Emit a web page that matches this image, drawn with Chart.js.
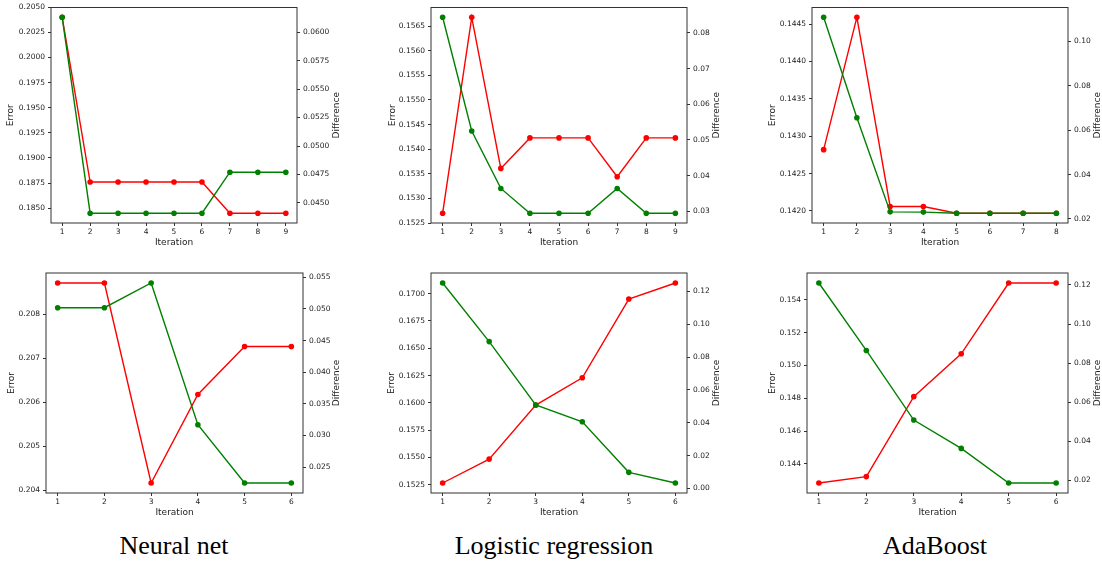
<!DOCTYPE html>
<html>
<head>
<meta charset="utf-8">
<script src="https://cdn.jsdelivr.net/npm/chart.js@4"></script>
<style>
  body { margin: 0; background: #fff; width: 1102px; height: 562px; position: relative; overflow: hidden; }
  canvas { position: absolute; }
  .cap { position: absolute; top: 533px; width: 300px; text-align: center;
         font-family: 'Liberation Serif', 'Times New Roman', serif; font-size: 26px; line-height: 26px; color: #000; }
</style>
</head>
<body>
<canvas id="c1"></canvas>
<canvas id="c2"></canvas>
<canvas id="c3"></canvas>
<canvas id="c4"></canvas>
<canvas id="c5"></canvas>
<canvas id="c6"></canvas>
<div class="cap" style="left:24px">Neural net</div>
<div class="cap" style="left:404px">Logistic regression</div>
<div class="cap" style="left:785px">AdaBoost</div>
<script>
// iterations
const iter9 = [1, 2, 3, 4, 5, 6, 7, 8, 9];
const iter8 = [1, 2, 3, 4, 5, 6, 7, 8];
const iter6 = [1, 2, 3, 4, 5, 6];

// top row
const nnErrA = [0.2040, 0.1876, 0.1876, 0.1876, 0.1876, 0.1876, 0.1845, 0.1845, 0.1845];
const nnDiffA = [0.0613, 0.0441, 0.0441, 0.0441, 0.0441, 0.0441, 0.0477, 0.0477, 0.0477];
const lrErrA = [0.1527, 0.15668, 0.15361, 0.15423, 0.15423, 0.15423, 0.15344, 0.15423, 0.15423];
const lrDiffA = [0.0844, 0.0525, 0.0364, 0.02945, 0.02945, 0.02945, 0.0364, 0.02945, 0.02945];
const abErrA = [0.14282, 0.14459, 0.14206, 0.14206, 0.14197, 0.14197, 0.14197, 0.14197];
const abDiffA = [0.1108, 0.0656, 0.0232, 0.0231, 0.0226, 0.0226, 0.0226, 0.0226];

// bottom row
const nnErrB = [0.20871, 0.20871, 0.20417, 0.20618, 0.20727, 0.20727];
const nnDiffB = [0.0502, 0.0502, 0.0541, 0.0317, 0.0225, 0.0225];
const lrErrB = [0.15266, 0.15485, 0.1598, 0.1623, 0.16951, 0.17098];
const lrDiffB = [0.1251, 0.0894, 0.0508, 0.0406, 0.0098, 0.0033];
const abErrB = [0.14284, 0.14323, 0.1481, 0.15071, 0.15502, 0.15502];
const abDiffB = [0.1210, 0.0865, 0.0509, 0.0364, 0.0187, 0.0187];

// tick labels
const nnErrTicksA = [0.1850, 0.1875, 0.1900, 0.1925, 0.1950, 0.1975, 0.2000, 0.2025, 0.2050];
const nnDiffTicksA = [0.0450, 0.0475, 0.0500, 0.0525, 0.0550, 0.0575, 0.0600];
const lrErrTicksA = [0.1525, 0.1530, 0.1535, 0.1540, 0.1545, 0.1550, 0.1555, 0.1560, 0.1565];
const lrDiffTicksA = [0.03, 0.04, 0.05, 0.06, 0.07, 0.08];
const abErrTicksA = [0.1420, 0.1425, 0.1430, 0.1435, 0.1440, 0.1445];
const abDiffTicksA = [0.02, 0.04, 0.06, 0.08, 0.10];
const nnErrTicksB = [0.204, 0.205, 0.206, 0.207, 0.208];
const nnDiffTicksB = [0.025, 0.030, 0.035, 0.040, 0.045, 0.050, 0.055];
const lrErrTicksB = [0.1525, 0.1550, 0.1575, 0.1600, 0.1625, 0.1650, 0.1675, 0.1700];
const lrDiffTicksB = [0.00, 0.02, 0.04, 0.06, 0.08, 0.10, 0.12];
const abErrTicksB = [0.144, 0.146, 0.148, 0.150, 0.152, 0.154];
const abDiffTicksB = [0.02, 0.04, 0.06, 0.08, 0.10, 0.12];

const FONT = 'DejaVu Sans';
const RED = '#ff0000';
const GREEN = '#008000';

const panels = [
  { id: 'c1', x: iter9, err: nnErrA, diff: nnDiffA, et: nnErrTicksA, dt: nnDiffTicksA, ed: 4, dd: 4,
    L: 51, R: 297, T: 4, B: 223, gl: 40, gr: 39.5 },
  { id: 'c2', x: iter9, err: lrErrA, diff: lrDiffA, et: lrErrTicksA, dt: lrDiffTicksA, ed: 4, dd: 2,
    L: 431, R: 687, T: 4, B: 223, gl: 38, gr: 29.5 },
  { id: 'c3', x: iter8, err: abErrA, diff: abDiffA, et: abErrTicksA, dt: abDiffTicksA, ed: 4, dd: 2,
    L: 812, R: 1068, T: 4, B: 223, gl: 39.5, gr: 29.5 },
  { id: 'c4', x: iter6, err: nnErrB, diff: nnDiffB, et: nnErrTicksB, dt: nnDiffTicksB, ed: 3, dd: 3,
    L: 46, R: 303, T: 273, B: 493, gl: 34, gr: 34 },
  { id: 'c5', x: iter6, err: lrErrB, diff: lrDiffB, et: lrErrTicksB, dt: lrDiffTicksB, ed: 4, dd: 2,
    L: 431, R: 687, T: 273, B: 493, gl: 39, gr: 30 },
  { id: 'c6', x: iter6, err: abErrB, diff: abDiffB, et: abErrTicksB, dt: abDiffTicksB, ed: 3, dd: 2,
    L: 807, R: 1068, T: 273, B: 493, gl: 34.5, gr: 29.5 },
];

// box around the plot and the right-hand label (reads bottom to top)
const framePlugin = {
  id: 'frame',
  afterDraw(chart, args, opts) {
    const { ctx, chartArea: a } = chart;
    ctx.save();
    ctx.strokeStyle = '#333';
    ctx.lineWidth = 1;
    ctx.strokeRect(a.left, a.top, a.right - a.left, a.bottom - a.top);
    ctx.fillStyle = '#222';
    ctx.font = '9px "' + FONT + '"';
    ctx.textAlign = 'center';
    ctx.textBaseline = 'middle';
    ctx.translate(a.right + opts.gap, (a.top + a.bottom) / 2);
    ctx.rotate(-Math.PI / 2);
    ctx.fillText('Difference', 0, 0);
    ctx.restore();
  },
};

function pad(vals) {
  const lo = Math.min(...vals), hi = Math.max(...vals);
  const m = (hi - lo) * 0.05;
  return [lo - m, hi + m];
}

function axisGrid() {
  return { display: true, drawOnChartArea: false, drawTicks: true, tickLength: 3, color: '#333', lineWidth: 1 };
}

panels.forEach(function (p) {
  const leftW = Math.round(p.gl + 4.5);
  const rightW = Math.ceil(p.gr + 6);
  const padTop = p.T < 100 ? p.T : 8;
  const xH = 24;
  const canvas = document.getElementById(p.id);
  canvas.width = leftW + (p.R - p.L) + rightW;
  canvas.height = padTop + (p.B - p.T) + xH;
  canvas.style.left = (p.L - leftW) + 'px';
  canvas.style.top = (p.T - padTop) + 'px';

  const n = p.x.length;
  const eR = pad(p.err);
  const dR = pad(p.diff);
  const tickFont = { family: FONT, size: 7.5 };
  const titleFont = { family: FONT, size: 9, lineHeight: 1 };

  new Chart(canvas.getContext('2d'), {
    type: 'line',
    data: {
      datasets: [
        {
          label: 'Difference',
          data: p.x.map((v, i) => ({ x: v, y: p.diff[i] })),
          yAxisID: 'y1',
          borderColor: GREEN, backgroundColor: GREEN,
          pointBackgroundColor: GREEN, pointBorderWidth: 0,
          borderWidth: 1.4, pointRadius: 2.8, tension: 0, fill: false,
        },
        {
          label: 'Error',
          data: p.x.map((v, i) => ({ x: v, y: p.err[i] })),
          yAxisID: 'y',
          borderColor: RED, backgroundColor: RED,
          pointBackgroundColor: RED, pointBorderWidth: 0,
          borderWidth: 1.4, pointRadius: 2.8, tension: 0, fill: false,
        },
      ],
    },
    options: {
      responsive: false,
      maintainAspectRatio: false,
      animation: false,
      events: [],
      layout: { padding: { top: padTop, left: 0, right: 0, bottom: 0 }, autoPadding: false },
      plugins: {
        legend: { display: false },
        tooltip: { enabled: false },
        frame: { gap: p.gr },
      },
      scales: {
        x: {
          type: 'linear',
          position: 'bottom',
          min: 1 - 0.05 * (n - 1),
          max: n + 0.05 * (n - 1),
          afterBuildTicks: (axis) => { axis.ticks = p.x.map(v => ({ value: v })); },
          afterFit: (axis) => { axis.height = xH; },
          ticks: { font: tickFont, color: '#222', padding: 2, maxRotation: 0, callback: (v) => String(v) },
          grid: axisGrid(),
          border: { display: false },
          title: { display: true, text: 'Iteration', font: titleFont, color: '#222', padding: 0 },
        },
        y: {
          type: 'linear',
          position: 'left',
          min: eR[0],
          max: eR[1],
          afterBuildTicks: (axis) => { axis.ticks = p.et.map(v => ({ value: v })); },
          afterFit: (axis) => { axis.width = leftW; },
          ticks: { font: tickFont, color: '#222', padding: 3, callback: (v) => Number(v).toFixed(p.ed) },
          grid: axisGrid(),
          border: { display: false },
          title: { display: true, text: 'Error', font: titleFont, color: '#222', padding: 0 },
        },
        y1: {
          type: 'linear',
          position: 'right',
          min: dR[0],
          max: dR[1],
          afterBuildTicks: (axis) => { axis.ticks = p.dt.map(v => ({ value: v })); },
          afterFit: (axis) => { axis.width = rightW; },
          ticks: { font: tickFont, color: '#222', padding: 3, callback: (v) => Number(v).toFixed(p.dd) },
          grid: axisGrid(),
          border: { display: false },
        },
      },
    },
    plugins: [framePlugin],
  });
});
</script>
</body>
</html>
